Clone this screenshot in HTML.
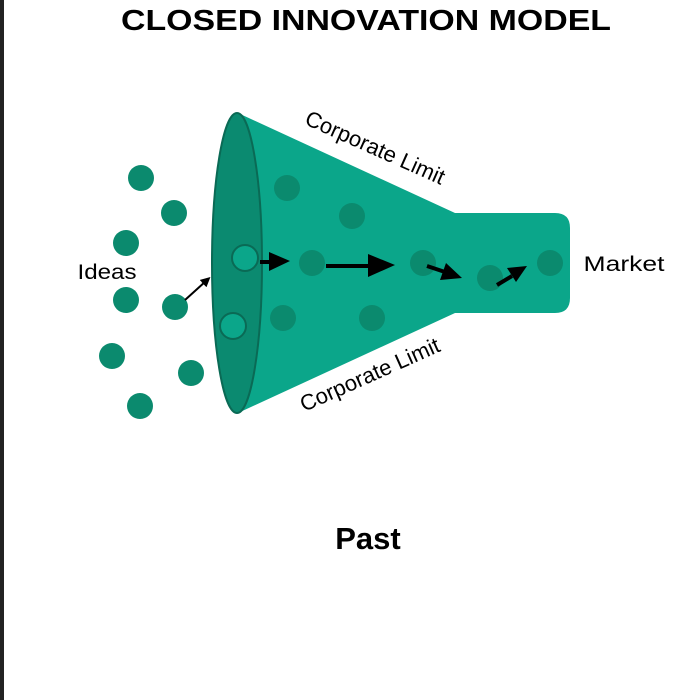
<!DOCTYPE html>
<html><head><style>body{margin:0;background:#fff;}svg{display:block}</style></head>
<body>
<svg width="700" height="700" viewBox="0 0 700 700" xmlns="http://www.w3.org/2000/svg" font-family="Liberation Sans, sans-serif">
<rect x="0" y="0" width="4" height="700" fill="#222"/>
<text x="366" y="30" font-size="29" font-weight="bold" text-anchor="middle" textLength="490" lengthAdjust="spacingAndGlyphs">CLOSED INNOVATION MODEL</text>
<defs>
<marker id="ah" markerWidth="5" markerHeight="5" refX="2" refY="2.5" orient="auto" markerUnits="strokeWidth"><path d="M0,0 L5,2.5 L0,5z" fill="#000"/></marker>
</defs>
<path d="M238,113 L455,213 L555,213 Q570,213 570,228 L570,298 Q570,313 555,313 L455,313 L238,413 Z" fill="#0ba68a"/>
<ellipse cx="237" cy="263" rx="25" ry="150" fill="#0b8a70" stroke="#0a6a55" stroke-width="2"/>
<g fill="#0b8a6e">
<circle cx="141" cy="178" r="13"/><circle cx="174" cy="213" r="13"/><circle cx="126" cy="243" r="13"/><circle cx="126" cy="300" r="13"/><circle cx="175" cy="307" r="13"/><circle cx="112" cy="356" r="13"/><circle cx="191" cy="373" r="13"/><circle cx="140" cy="406" r="13"/>
<circle cx="287" cy="188" r="13"/><circle cx="352" cy="216" r="13"/><circle cx="312" cy="263" r="13"/><circle cx="423" cy="263" r="13"/><circle cx="490" cy="278" r="13"/><circle cx="550" cy="263" r="13"/><circle cx="283" cy="318" r="13"/><circle cx="372" cy="318" r="13"/>
</g>
<circle cx="245" cy="258" r="13" fill="#0ba68a" stroke="#0a6a55" stroke-width="2"/>
<circle cx="233" cy="326" r="13" fill="#0ba68a" stroke="#0a6a55" stroke-width="2"/>
<g stroke="#000">
<line x1="185" y1="300" x2="206" y2="281" stroke-width="2" marker-end="url(#ah)"/>
<line x1="260" y1="262" x2="272" y2="262" stroke-width="4"/>
<line x1="326" y1="266" x2="370" y2="266" stroke-width="4"/>
<line x1="427" y1="266" x2="445" y2="272" stroke-width="4"/>
<line x1="497" y1="285" x2="512" y2="276" stroke-width="4"/>
</g>
<g fill="#000">
<polygon points="269,252 290,261 269,271"/>
<polygon points="368,254 395,265 368,277"/>
<polygon points="440,280 462,278 446,263"/>
<polygon points="516,282 527,266 507,268"/>
</g>
<text x="375" y="155" font-size="22" text-anchor="middle" transform="rotate(24 375 148)">Corporate Limit</text>
<text x="370" y="382" font-size="22" text-anchor="middle" transform="rotate(-24 370 375)">Corporate Limit</text>
<text x="107" y="279" font-size="21" text-anchor="middle" textLength="59" lengthAdjust="spacingAndGlyphs">Ideas</text>
<text x="624" y="271" font-size="21" text-anchor="middle" textLength="81" lengthAdjust="spacingAndGlyphs">Market</text>
<text x="368" y="549" font-size="31" font-weight="bold" text-anchor="middle">Past</text>
</svg>
</body></html>
